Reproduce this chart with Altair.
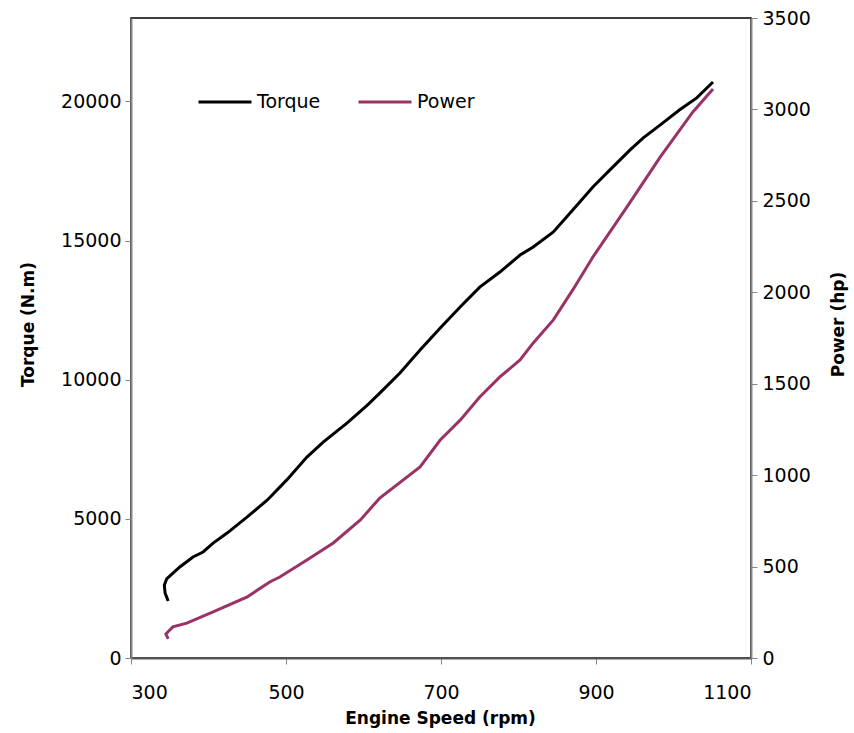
import altair as alt
import pandas as pd

# Torque curve (engine speed in rpm, torque in N.m)
torque_rpm = [348, 344, 343, 346, 363, 380, 393, 406, 424, 450, 476, 501,
              527, 548, 579, 605, 621, 647, 673, 699, 725, 750, 776, 802,
              819, 845, 870, 896, 918, 944, 961, 983, 1008, 1030, 1051]
torque_nm = [2050, 2330, 2620, 2840, 3270, 3630, 3810, 4130, 4490, 5070,
             5680, 6400, 7220, 7760, 8450, 9090, 9520, 10240, 11070, 11860,
             12620, 13330, 13870, 14480, 14770, 15310, 16100, 16930, 17540,
             18260, 18690, 19160, 19700, 20130, 20700]

# Power curve (engine speed in rpm, power in hp)
power_rpm = [348, 345, 354, 372, 406, 450, 479, 492, 527, 561, 596, 621,
             673, 699, 725, 750, 776, 802, 819, 845, 870, 896, 940, 983,
             1025, 1051]
power_hp = [104, 131, 170, 191, 252, 334, 416, 443, 536, 629, 755, 875,
            1045, 1192, 1302, 1427, 1537, 1630, 1723, 1849, 2013, 2193,
            2467, 2740, 2986, 3112]

series_names = ["Torque", "Power"]
series_colors = ["#000000", "#993366"]

x_ticks = [300, 500, 700, 900, 1100]
torque_ticks = [0, 5000, 10000, 15000, 20000]
power_ticks = [0, 500, 1000, 1500, 2000, 2500, 3000, 3500]

FONT = "DejaVu Sans"

torque_df = pd.DataFrame({
    "rpm": torque_rpm, "value": torque_nm,
    "series": "Torque", "step": list(range(len(torque_rpm))),
})
power_df = pd.DataFrame({
    "rpm": power_rpm, "value": power_hp,
    "series": "Power", "step": list(range(len(power_rpm))),
})

x_enc = alt.X(
    "rpm:Q",
    scale=alt.Scale(domain=[300, 1100], nice=False, zero=False),
    axis=alt.Axis(
        values=x_ticks, format="d", title="Engine Speed (rpm)",
        domainColor="#595959", tickColor="#868686", labelPadding=19,
        titleX=309, titleY=60, titleBaseline="middle", titleAlign="center",
    ),
)

color_enc = alt.Color(
    "series:N",
    scale=alt.Scale(domain=series_names, range=series_colors),
    legend=alt.Legend(
        title=None, orient="none", legendX=66, legendY=56,
        direction="horizontal", symbolType="stroke", symbolSize=2809,
        symbolStrokeWidth=3, labelFontSize=19, labelFont=FONT,
        labelColor="#000000", columnPadding=31, labelOffset=4,
    ),
)

torque = alt.Chart(torque_df).mark_line(strokeWidth=3).encode(
    x=x_enc,
    y=alt.Y(
        "value:Q",
        scale=alt.Scale(domain=[0, 23000], nice=False),
        axis=alt.Axis(
            orient="left", values=torque_ticks, format="d",
            title="Torque (N.m)", labelPadding=4, titleX=-103, titleY=306,
            titleAngle=270, titleAlign="center", titleBaseline="middle",
        ),
    ),
    color=color_enc,
    order="step:Q",
)

power = alt.Chart(power_df).mark_line(strokeWidth=3).encode(
    x=x_enc,
    y=alt.Y(
        "value:Q",
        scale=alt.Scale(domain=[0, 3500], nice=False),
        axis=alt.Axis(
            orient="right", values=power_ticks, format="d",
            title="Power (hp)", labelPadding=5, titleX=87, titleY=306,
            titleAngle=270, titleAlign="center", titleBaseline="middle",
        ),
    ),
    color=color_enc,
    order="step:Q",
)

chart = (
    alt.layer(torque, power)
    .resolve_scale(y="independent")
    .properties(
        width=620, height=640,
        padding={"left": 131, "top": 18, "right": 103, "bottom": 75},
        autosize=alt.AutoSizeParams(type="none"),
        background="#ffffff",
    )
    .configure_view(stroke="#000000", strokeWidth=1.5)
    .configure_axis(
        grid=False, domainColor="#868686", domainWidth=2,
        tickColor="#868686", tickSize=6, tickWidth=1,
        labelFont=FONT, labelFontSize=19, labelColor="#000000",
        titleFont=FONT, titleFontSize=17, titleFontWeight="bold",
        titleColor="#000000",
    )
)

chart.save("out.html", embed_options={"renderer": "svg", "actions": False})
